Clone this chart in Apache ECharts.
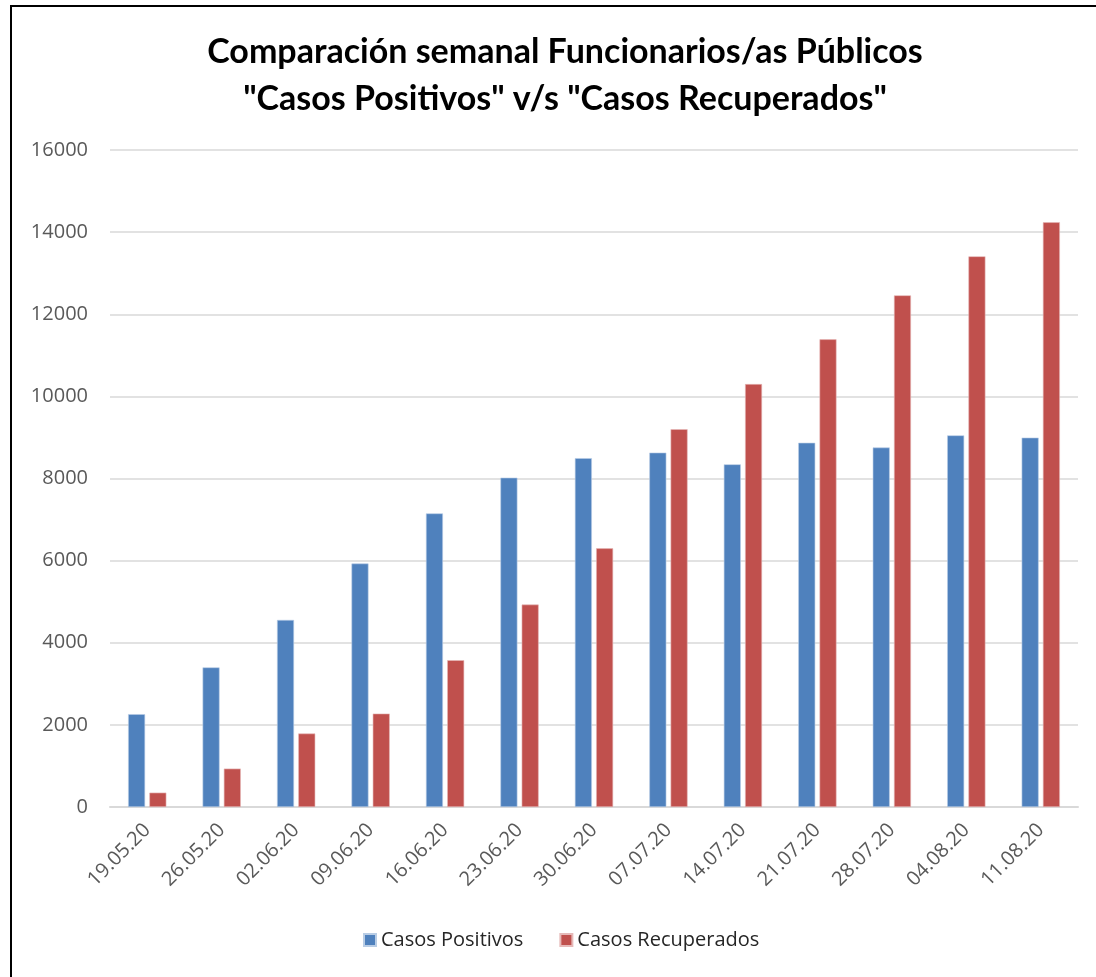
<!DOCTYPE html>
<html>
<head>
<meta charset="utf-8">
<script src="https://cdn.jsdelivr.net/npm/echarts@6/dist/echarts.min.js"></script>
<style>
html,body{margin:0;padding:0;background:#fff;}
#frame{position:absolute;left:10px;top:5px;width:1100px;height:990px;border:2px solid #000;box-sizing:border-box;}
#chart{position:absolute;left:0;top:0;width:1096px;height:977px;}
</style>
</head>
<body>
<div id="frame"></div>
<div id="chart"></div>
<script>
const categories = ['19.05.20','26.05.20','02.06.20','09.06.20','16.06.20','23.06.20','30.06.20','07.07.20','14.07.20','21.07.20','28.07.20','04.08.20','11.08.20'];
const casosPositivos = [2260, 3400, 4555, 5930, 7150, 8020, 8495, 8630, 8345, 8870, 8755, 9050, 8995];
const casosRecuperados = [350, 935, 1790, 2275, 3575, 4930, 6300, 9200, 10300, 11390, 12460, 13410, 14240];
const titleLines = ['Comparación semanal Funcionarios/as Públicos', '"Casos Positivos" v/s "Casos Recuperados"'];

const chart = echarts.init(document.getElementById('chart'), null, {renderer:'canvas'});
const font = 'Open Sans';
chart.setOption({
  backgroundColor: 'transparent',
  animation: false,
  title: {
    text: titleLines.join('\n'),
    left: 560, top: 24, textAlign: 'center',
    textStyle: {fontFamily: 'Lato', fontWeight: 'bold', fontSize: 34, lineHeight: 47, color: '#000'}
  },
  legend: {
    bottom: 22, left: 358,
    itemWidth: 12, itemHeight: 12, itemGap: 36,
    icon: 'rect',
    textStyle: {fontFamily: font, fontSize: 20, color: '#262626'},
    data: ['Casos Positivos','Casos Recuperados']
  },
  grid: {left: 110, right: 18, top: 150, bottom: 170, containLabel: false},
  xAxis: {
    type: 'category', data: categories,
    axisLine: {lineStyle: {color: '#d9d9d9', width: 2}},
    axisTick: {show: false},
    axisLabel: {rotate: 45, fontFamily: font, fontSize: 20, color: '#595959', margin: 20}
  },
  yAxis: {
    type: 'value', min: 0, max: 16000, interval: 2000,
    axisLine: {show: false}, axisTick: {show: false},
    splitLine: {lineStyle: {color: '#d9d9d9', width: 1.5}},
    axisLabel: {fontFamily: font, fontSize: 20, color: '#595959', margin: 22, formatter: v => String(v)}
  },
  series: [
    {name: 'Casos Positivos', type: 'bar', data: casosPositivos, barWidth: 17, barGap: '25%',
     itemStyle: {color: '#4F81BD', borderColor: '#b9cde5', borderWidth: 0.6}},
    {name: 'Casos Recuperados', type: 'bar', data: casosRecuperados, barWidth: 17,
     itemStyle: {color: '#C0504D', borderColor: '#e6b9b8', borderWidth: 0.6}}
  ]
});
</script>
</body>
</html>
